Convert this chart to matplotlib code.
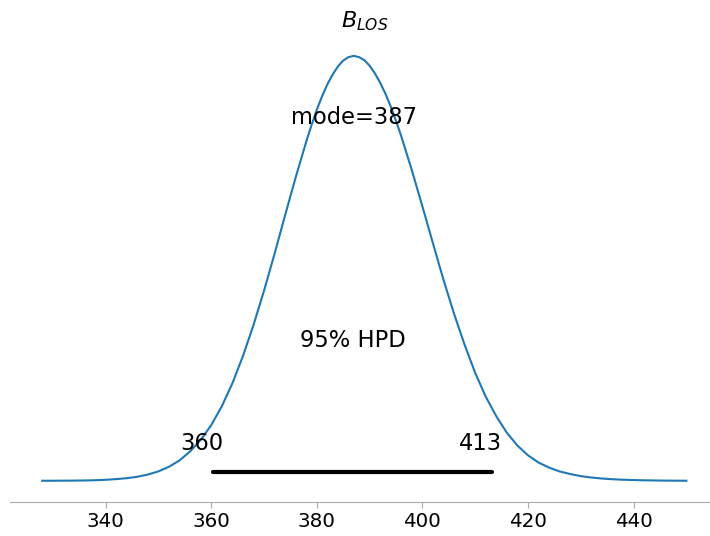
import matplotlib
matplotlib.use("Agg")
import matplotlib.pyplot as plt

# posterior density of B_LOS (relative to the peak)
b_los = [328, 330, 332, 334, 336, 338, 340, 342, 344, 346, 348, 350, 352, 354,
         356, 358, 360, 362, 364, 366, 368, 370, 372, 374, 376, 378, 379, 380,
         381, 382, 383, 384, 385, 386, 387, 388, 389, 390, 391, 392, 393, 394,
         395, 396, 398, 400, 402, 404, 406, 408, 410, 412, 414, 416, 418, 420,
         422, 424, 426, 428, 430, 432, 434, 436, 438, 440, 442, 444, 446, 448,
         450]
density = [0.0001, 0.0002, 0.0003, 0.0005, 0.0008, 0.0014, 0.0024, 0.0040,
           0.0062, 0.0095, 0.0147, 0.0222, 0.033, 0.048, 0.069, 0.096, 0.131,
           0.175, 0.229, 0.293, 0.366, 0.447, 0.534, 0.625, 0.714, 0.798,
           0.837, 0.873, 0.905, 0.933, 0.956, 0.975, 0.989, 0.997, 1.0, 0.997,
           0.990, 0.977, 0.959, 0.937, 0.911, 0.881, 0.847, 0.811, 0.731,
           0.646, 0.559, 0.473, 0.393, 0.320, 0.254, 0.198, 0.152, 0.113,
           0.083, 0.060, 0.043, 0.031, 0.022, 0.016, 0.011, 0.0078, 0.0054,
           0.0037, 0.0026, 0.0018, 0.0012, 0.0008, 0.0005, 0.0003, 0.0002]

mode = 387
hpd = [360.4, 413.2]
hpd_label = "95% HPD"
xticks = [340, 360, 380, 400, 420, 440]

fig = plt.figure(figsize=(7.1, 5.36), dpi=100)
ax = fig.add_axes([0.0141, 0.0634, 0.998, 0.872])

ax.plot(b_los, density, color="#1f77b4", lw=1.5)
ax.margins(x=0.05, y=0.05)
height = ax.get_ylim()[1]

ax.plot(hpd, [height * 0.02, height * 0.02], color="k", lw=3,
        solid_capstyle="round")
for v in hpd:
    ax.annotate(f"{v:.0f}", xy=(v, height * 0.07), xytext=(-8, 0),
                textcoords="offset points", fontsize=16.3, ha="center")
ax.text(sum(hpd) / 2, height * 0.3, hpd_label, fontsize=16.3, ha="center")
ax.text(mode, height * 0.8, f"mode={mode}", fontsize=16.3, ha="center")

ax.set_title("$B_{LOS}$", fontsize=16, pad=5)

ax.set_yticks([])
ax.set_xticks(xticks)
ax.tick_params(axis="x", labelsize=14.3, color="#aaaaaa", length=4)
for side in ["left", "right", "top"]:
    ax.spines[side].set_visible(False)
ax.spines["bottom"].set_color("#aaaaaa")

fig.savefig("out.png", dpi=100)
